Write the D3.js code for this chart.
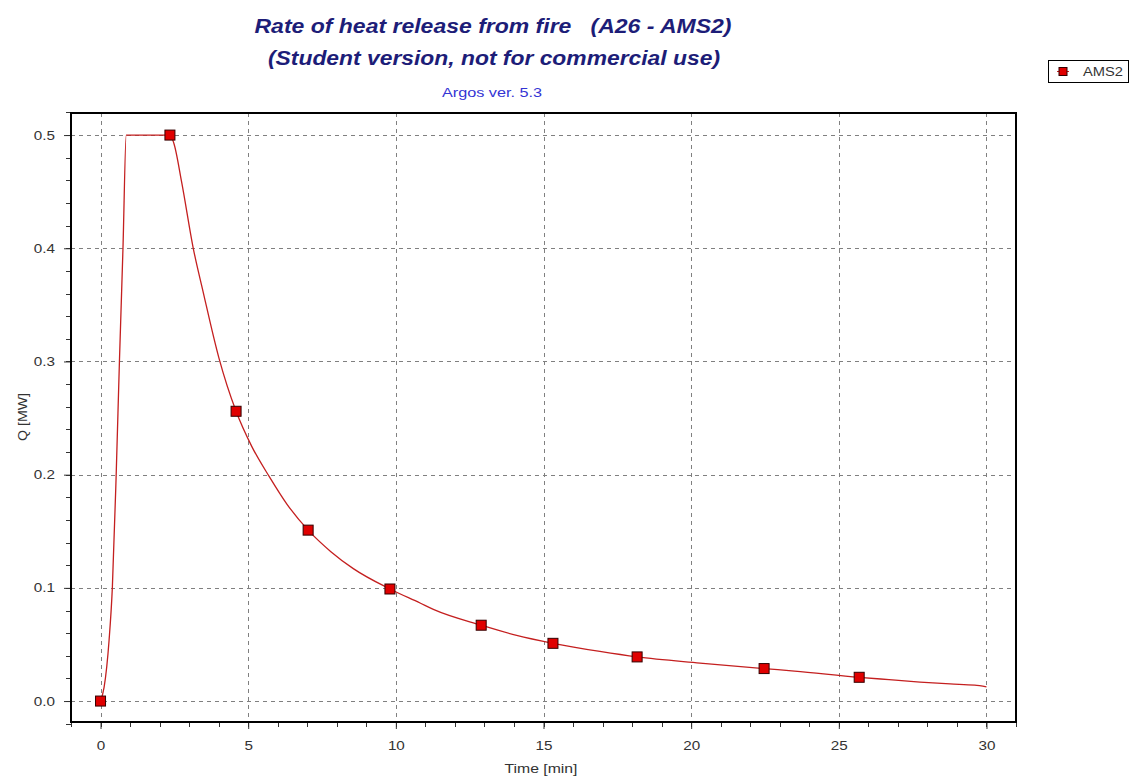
<!DOCTYPE html>
<html>
<head>
<meta charset="utf-8">
<script src="https://cdn.jsdelivr.net/npm/d3@7"></script>
<style>
  body { margin: 0; background: #fff; }
  svg { display: block; font-family: "Liberation Sans", Arial, sans-serif; }
</style>
</head>
<body>
<div id="chart"></div>
<script>
// curve (time in min, Q in MW)
const curveT = [0, 0.12, 0.29, 0.40, 0.53, 0.64, 0.76, 0.87, 2.35, 2.48, 2.75, 3.14, 3.47, 4.01, 4.59,
  5.12, 5.72, 6.31, 7.03, 7.8, 8.56, 9.80, 10.82, 11.27, 12.89, 14.09, 15.32, 16.91, 18.17, 20.3,
  22.47, 23.5, 25.69, 26.7, 27.75, 28.77, 29.6, 30.0];
const curveQ = [0, 0.012, 0.054, 0.10, 0.20, 0.30, 0.40, 0.50, 0.50, 0.493, 0.458, 0.40, 0.362, 0.303, 0.256,
  0.225, 0.198, 0.174, 0.151, 0.132, 0.117, 0.099, 0.0866, 0.081, 0.067, 0.058, 0.051, 0.0438, 0.039, 0.0336,
  0.0287, 0.0265, 0.0210, 0.0189, 0.0168, 0.0151, 0.0140, 0.0126];

// markers
const markT = [0, 2.35, 4.59, 7.03, 9.80, 12.89, 15.32, 18.17, 22.47, 25.69];
const markQ = [0, 0.5, 0.256, 0.151, 0.099, 0.067, 0.051, 0.039, 0.0287, 0.0210];

const xTicks = [0, 5, 10, 15, 20, 25, 30];
const xMinor = d3.range(-1, 32, 1);
const yTicks = [0, 0.1, 0.2, 0.3, 0.4, 0.5];
const yMinor = d3.range(-0.02, 0.53, 0.02);

const W = 1137, H = 779;
const plot = { l: 71, r: 1016, t: 113, b: 722 };
const navy = '#1d1d78';
const lineCol = '#c41f1f';

const svg = d3.select('#chart').append('svg').attr('width', W).attr('height', H);

const x = d3.scaleLinear().domain([-1, 31]).range([plot.l, plot.r]);
const y = d3.scaleLinear().domain([-0.0185, 0.5195]).range([plot.b, plot.t]);

// the source renders its text a bit wider than Arial, so widen each label
function widen(sel, k) {
  sel.each(function () {
    const len = this.getComputedTextLength();
    d3.select(this).attr('textLength', len * k).attr('lengthAdjust', 'spacingAndGlyphs');
  });
}

// titles
const t1 = svg.append('text').attr('x', 493).attr('y', 33).attr('text-anchor', 'middle')
  .attr('font-size', 21).attr('font-weight', 'bold').attr('font-style', 'italic').attr('fill', navy)
  .style('white-space', 'pre')
  .text('Rate of heat release from fire   (A26 - AMS2)');
const t2 = svg.append('text').attr('x', 494).attr('y', 65).attr('text-anchor', 'middle')
  .attr('font-size', 21).attr('font-weight', 'bold').attr('font-style', 'italic').attr('fill', navy)
  .text('(Student version, not for commercial use)');
t1.attr('textLength', 477).attr('lengthAdjust', 'spacingAndGlyphs');
t2.attr('textLength', 452).attr('lengthAdjust', 'spacingAndGlyphs');
svg.append('text').attr('x', 492).attr('y', 97).attr('text-anchor', 'middle')
  .attr('font-size', 13).attr('fill', '#3434d4').text('Argos ver. 5.3')
  .attr('textLength', 100).attr('lengthAdjust', 'spacingAndGlyphs');

// grid
const grid = svg.append('g').attr('stroke', '#808080').attr('stroke-dasharray', '4,4').attr('stroke-width', 1);
grid.selectAll('.gx').data(xTicks).join('line')
  .attr('x1', d => Math.round(x(d)) + 0.5).attr('x2', d => Math.round(x(d)) + 0.5)
  .attr('y1', plot.t).attr('y2', plot.b);
grid.selectAll('.gy').data(yTicks).join('line')
  .attr('y1', d => Math.round(y(d)) + 0.5).attr('y2', d => Math.round(y(d)) + 0.5)
  .attr('x1', plot.l).attr('x2', plot.r);

// minor ticks
const tk = svg.append('g').attr('stroke', '#333').attr('stroke-width', 1);
tk.selectAll('.mx').data(xMinor).join('line')
  .attr('x1', d => Math.round(x(d)) + 0.5).attr('x2', d => Math.round(x(d)) + 0.5)
  .attr('y1', plot.b).attr('y2', plot.b + 5);
tk.selectAll('.my').data(yMinor).join('line')
  .attr('y1', d => Math.round(y(d)) + 0.5).attr('y2', d => Math.round(y(d)) + 0.5)
  .attr('x1', plot.l - 5).attr('x2', plot.l);

// major axes
const xAxis = svg.append('g').attr('transform', `translate(0,${plot.b})`)
  .call(d3.axisBottom(x).tickValues(xTicks).tickFormat(d3.format('d')).tickSize(7).tickPadding(12));
const yAxis = svg.append('g').attr('transform', `translate(${plot.l},0)`)
  .call(d3.axisLeft(y).tickValues(yTicks).tickFormat(d3.format('.1f')).tickSize(7).tickPadding(9));
[xAxis, yAxis].forEach(a => {
  a.select('.domain').remove();
  a.selectAll('.tick line').attr('stroke', '#333');
  a.selectAll('.tick text').attr('font-size', 12.5).attr('fill', '#333')
    .attr('font-family', '"Liberation Sans", Arial, sans-serif');
  widen(a.selectAll('.tick text'), 1.22);
});

// frame
svg.append('rect').attr('x', plot.l).attr('y', plot.t)
  .attr('width', plot.r - plot.l).attr('height', plot.b - plot.t)
  .attr('fill', 'none').attr('stroke', '#000').attr('stroke-width', 2);

// axis titles
svg.append('text').attr('x', 541).attr('y', 773).attr('text-anchor', 'middle')
  .attr('font-size', 12.5).attr('fill', '#333').text('Time [min]')
  .attr('textLength', 73).attr('lengthAdjust', 'spacingAndGlyphs');
svg.append('text').attr('transform', 'translate(27,417) rotate(-90)').attr('text-anchor', 'middle')
  .attr('font-size', 12.5).attr('fill', '#333').text('Q [MW]')
  .attr('textLength', 48).attr('lengthAdjust', 'spacingAndGlyphs');

// series
const line = d3.line().x((d, i) => x(curveT[i])).y(d => y(d)).curve(d3.curveMonotoneX);
svg.append('path').datum(curveQ).attr('d', line)
  .attr('fill', 'none').attr('stroke', lineCol).attr('stroke-width', 1.3);

const ms = 10;
svg.selectAll('.mk').data(markQ).join('rect')
  .attr('x', (d, i) => x(markT[i]) - ms / 2).attr('y', d => y(d) - ms / 2)
  .attr('width', ms).attr('height', ms)
  .attr('fill', '#e00000').attr('stroke', '#300').attr('stroke-width', 1);

// legend
const lg = svg.append('g');
lg.append('rect').attr('x', 1048.5).attr('y', 60.5).attr('width', 80).attr('height', 22)
  .attr('fill', '#fff').attr('stroke', '#000').attr('stroke-width', 1);
lg.append('line').attr('x1', 1057).attr('x2', 1069).attr('y1', 71.5).attr('y2', 71.5)
  .attr('stroke', lineCol).attr('stroke-width', 1);
lg.append('rect').attr('x', 1059).attr('y', 67.5).attr('width', 8).attr('height', 8)
  .attr('fill', '#e00000').attr('stroke', '#300').attr('stroke-width', 1);
lg.append('text').attr('x', 1083).attr('y', 76).attr('font-size', 12.5).attr('fill', '#333').text('AMS2')
  .attr('textLength', 40).attr('lengthAdjust', 'spacingAndGlyphs');
</script>
</body>
</html>
